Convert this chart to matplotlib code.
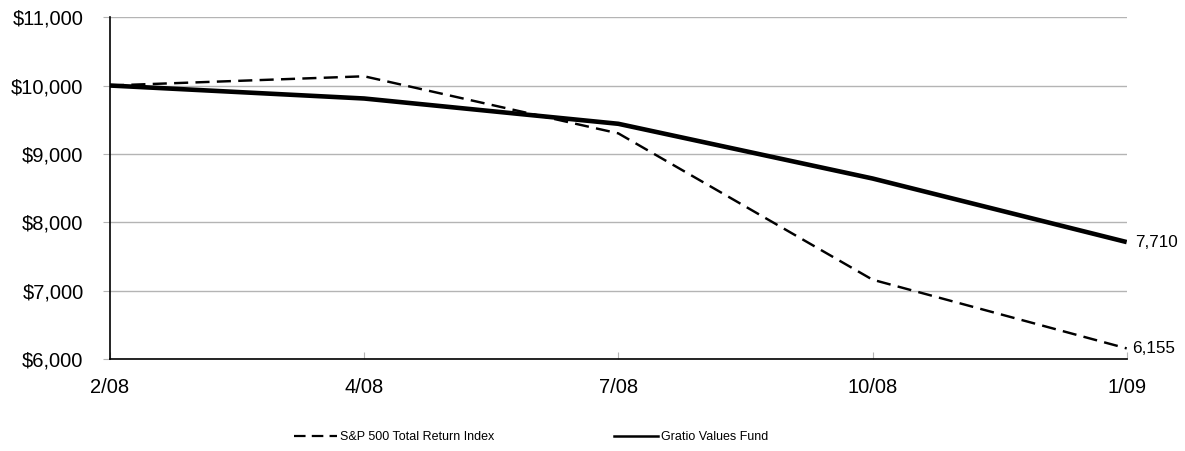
import matplotlib.pyplot as plt
from matplotlib.lines import Line2D
from matplotlib.ticker import FuncFormatter

dates = ['2/08', '4/08', '7/08', '10/08', '1/09']
sp500 = [10000, 10135, 9300, 7160, 6155]
gratio = [10000, 9810, 9440, 8640, 7710]
y_ticks = [6000, 7000, 8000, 9000, 10000, 11000]
names = ['S&P 500 Total Return Index', 'Gratio Values Fund']

plt.rcParams['font.family'] = ['Liberation Sans', 'DejaVu Sans']

fig = plt.figure(figsize=(11.85, 4.51), dpi=100)
ax = fig.add_axes([0.0928, 0.204, 0.858, 0.758])

x = list(range(len(dates)))
ax.plot(x, sp500, c='black', lw=1.75, dashes=(5.8, 3.0))
ax.plot(x, gratio, c='black', lw=3.3, solid_capstyle='butt')

ax.set_xlim(0, len(dates) - 1)
ax.set_ylim(6000, 11000)
ax.set_yticks(y_ticks)
ax.yaxis.set_major_formatter(FuncFormatter(lambda v, p: '${:,.0f}'.format(v)))
ax.set_xticks(x)
ax.set_xticklabels(dates)

# horizontal grid
ax.grid(axis='y', color='#b4b4b4', lw=1)
ax.set_axisbelow(True)

ax.spines['right'].set_visible(False)
ax.spines['top'].set_visible(False)
ax.spines['left'].set_linewidth(1.2)
ax.spines['bottom'].set_linewidth(1.2)

ax.tick_params(axis='y', direction='out', length=5, color='#b4b4b4', pad=14, labelsize=14.5)
ax.tick_params(axis='x', direction='in', length=5, color='#b4b4b4', pad=14, labelsize=14.5)

# end values
ax.annotate('{:,}'.format(gratio[-1]), (x[-1], gratio[-1]), xytext=(6, 0),
            textcoords='offset points', va='center', ha='left', fontsize=12.3,
            annotation_clip=False)
ax.annotate('{:,}'.format(sp500[-1]), (x[-1], sp500[-1]), xytext=(4, 0),
            textcoords='offset points', va='center', ha='left', fontsize=12.3,
            annotation_clip=False)

handles = [Line2D([], [], c='black', lw=1.6, dashes=(5.2, 2.8)),
           Line2D([], [], c='black', lw=1.8)]
fig.legend(handles, names, loc='center', bbox_to_anchor=(0.448, 0.031), ncol=2,
           frameon=False, handlelength=3.45, handletextpad=0.25, columnspacing=9.6,
           fontsize=9)

plt.savefig('out.png', dpi=100)
